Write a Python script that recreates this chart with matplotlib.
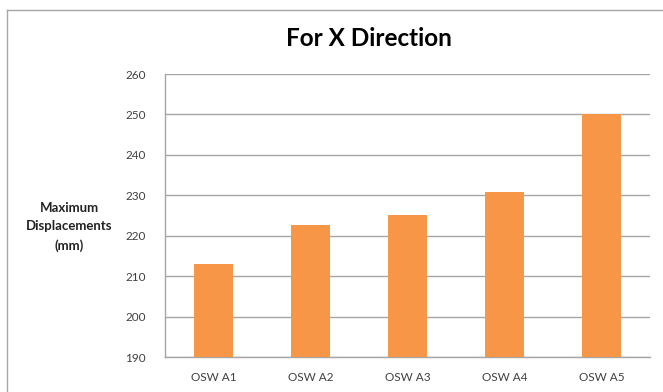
import numpy as np
import matplotlib.pyplot as plt
from matplotlib.lines import Line2D

categories = ['OSW A1', 'OSW A2', 'OSW A3', 'OSW A4', 'OSW A5']
values = [213.0, 222.7, 225.1, 230.8, 250.2]
yticks = [190, 200, 210, 220, 230, 240, 250, 260]

plt.rcParams['font.family'] = ['Lato', 'DejaVu Sans']
grid_col = '#a6a6a6'
bar_col = '#f79646'

fig = plt.figure(figsize=(6.63, 3.92), dpi=100)
ax = fig.add_axes([165/663, 35/392, 485/663, 283/392])

x = np.arange(len(categories))
ax.bar(x, values, width=0.4, color=bar_col, zorder=3)

ax.set_xlim(-0.5, len(categories) - 0.5)
ax.set_ylim(190, 260)
ax.set_yticks(yticks)
ax.set_xticks(x)
ax.set_xticklabels(categories)
ax.tick_params(axis='both', length=0, labelsize=8.5, colors='#404040')
ax.tick_params(axis='y', pad=14)
ax.tick_params(axis='x', pad=11)
ax.grid(axis='y', color=grid_col, linewidth=1.0, zorder=0)

for side in ['top', 'right']:
    ax.spines[side].set_visible(False)
for side in ['left', 'bottom']:
    ax.spines[side].set_color(grid_col)
    ax.spines[side].set_linewidth(1.0)

fig.text(369/663, 1 - 39/392, 'For X Direction', ha='center', va='center',
         fontsize=17.5, fontweight='bold', color='black')
fig.text(69/663, 1 - 227/392, 'Maximum\nDisplacements\n(mm)', ha='center',
         va='center', fontsize=9.5, fontweight='bold', color='#222222',
         linespacing=1.65)

# chart frame (cropped on right and bottom)
fig.add_artist(Line2D([7/663, 7/663], [0, 1 - 10/392], color=grid_col,
                      linewidth=1.0, transform=fig.transFigure))
fig.add_artist(Line2D([7/663, 1], [1 - 10/392, 1 - 10/392], color=grid_col,
                      linewidth=1.0, transform=fig.transFigure))

fig.savefig('out.png', dpi=100)
